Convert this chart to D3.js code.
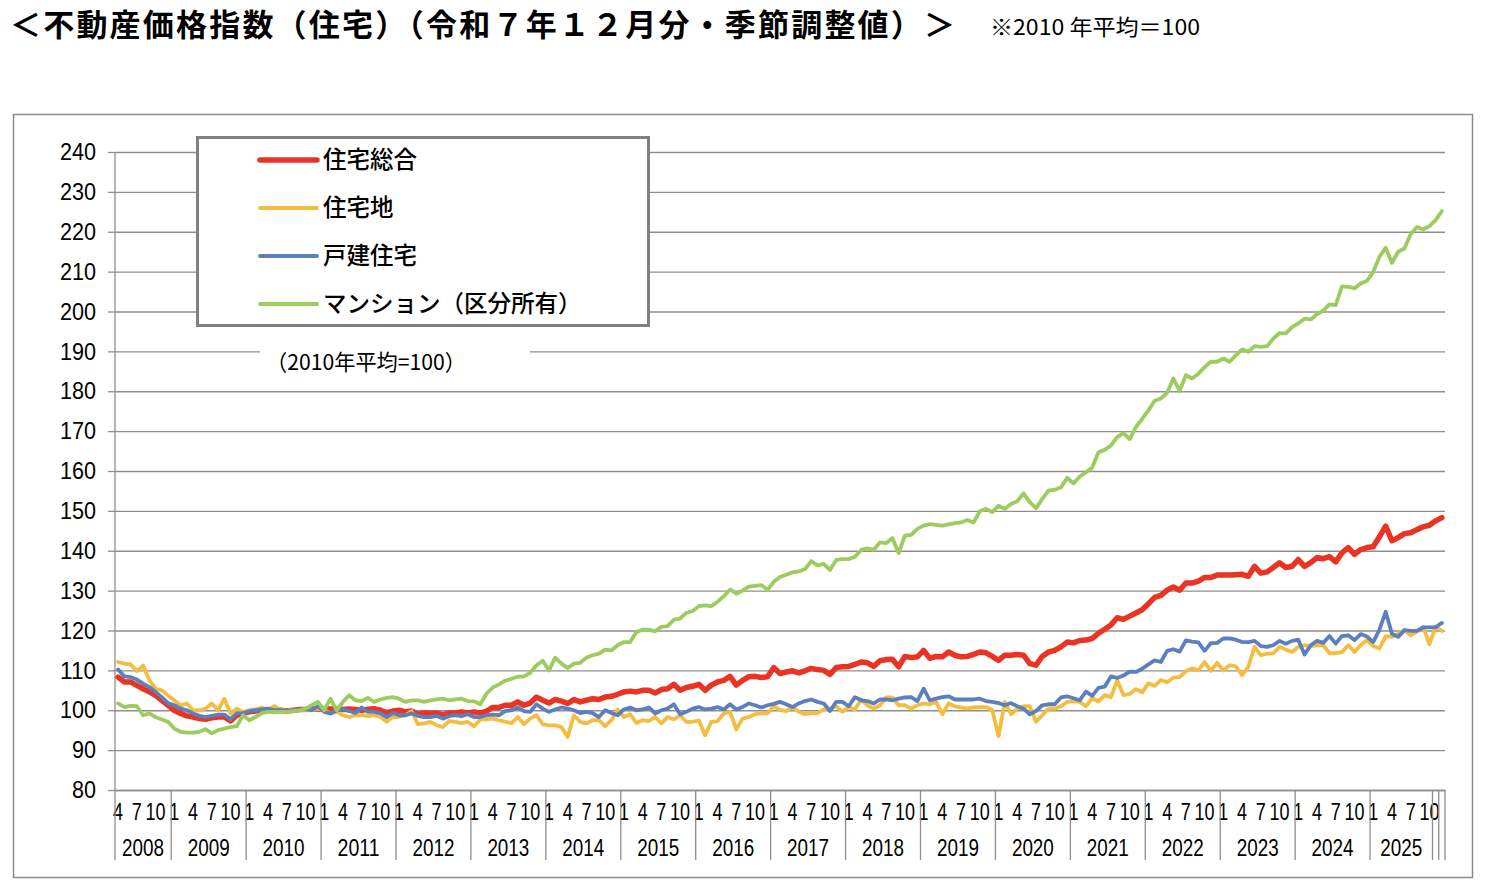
<!DOCTYPE html>
<html>
<head>
<meta charset="utf-8">
<script src="https://cdn.jsdelivr.net/npm/d3@7"></script>
<style>
  body { margin: 0; background: #fff; }
  .jp { font-family: "Noto Sans CJK JP", "Noto Sans", sans-serif; }
  .num { font-family: "Liberation Sans Narrow", "Arial Narrow", "Liberation Sans", sans-serif; }
</style>
</head>
<body>
<svg id="chart" width="1486" height="884"></svg>
<script>
// monthly series, April 2008 .. December 2025 (2010 average = 100)
const years = [2008, 2009, 2010, 2011, 2012, 2013, 2014, 2015, 2016, 2017,
               2018, 2019, 2020, 2021, 2022, 2023, 2024, 2025];
const firstMonth = 4;          // series starts in April of the first year
const monthTicks = [1, 4, 7, 10];
const tailGroups = 2;          // last two months sit in their own unlabelled groups

// 住宅総合
const soGo = [
  108.3, 107.1, 107.1, 106.25, 105.4, 104.6, 103.75, 102.5, 101.25, 100,
  99.2, 98.6, 98.3, 97.9, 97.75, 98.1, 98.3, 98.3, 97.3, 98.75,
  99.2, 99.6, 99.8, 100, 100, 99.8, 100, 99.8, 100, 100.2,
  100.25, 100.4, 100.3, 100.4, 100.3, 100.4, 100.2, 100.3, 100.2, 100,
  100.25, 100.4, 100, 99.4, 99.8, 100, 99.6, 99.8, 99, 99.3,
  99.2, 99.3, 98.9, 99.3, 99.3, 99.6, 99.3, 99.6, 99.3, 99.8,
  100.7, 100.7, 101.25, 101.25, 102.1, 101.25, 101.8, 103.3, 102.5, 101.8,
  102.7, 102.3, 101.7, 102.7, 102.1, 102.5, 102.9, 102.7, 103.3, 103.5,
  104, 104.6, 104.8, 104.6, 105, 105, 104.3, 105.2, 105.4, 106.5,
  105, 105.7, 106, 106.5, 105, 106.3, 107.1, 107.5, 108.5, 106.3,
  107.5, 108.4, 108.5, 108.2, 108.4, 110.7, 109.2, 109.6, 109.9, 109.4,
  109.9, 110.5, 110.2, 110, 109, 110.7, 110.9, 111, 111.5, 112.1,
  111.9, 111, 112.4, 112.7, 112.8, 110.9, 113.5, 113.2, 113.4, 115,
  113, 113.5, 113.4, 114.6, 113.8, 113.4, 113.5, 114, 114.6, 114.4,
  113.5, 112.5, 113.8, 113.8, 114, 113.8, 111.7, 111.3, 113.5, 114.6,
  115, 115.9, 117.1, 116.9, 117.5, 117.6, 118, 119.3, 120.3, 121.4,
  123.2, 122.8, 123.6, 124.4, 125.2, 126.7, 128.3, 128.8, 130.1, 130.9,
  130.1, 131.9, 131.9, 132.4, 133.3, 133.3, 133.9, 133.9, 133.9, 134,
  134.1, 133.6, 136.1, 134.4, 134.7, 135.8, 137, 135.8, 136.1, 137.8,
  136.1, 137, 138.3, 138, 138.5, 137.2, 139.5, 140.8, 139.1, 140.3,
  140.8, 141, 143.5, 146.2, 142.5, 143.3, 144.3, 144.5, 145.3, 146,
  146.4, 147.5, 148.3
];

// 住宅地
const jutakuchi = [
  112.1, 111.7, 111.5, 109.8, 111.2, 107.5, 105.4, 105, 103.7, 102.5,
  101.2, 101.7, 100, 100, 100.4, 101.7, 100, 102.9, 99.2, 100.4,
  99.6, 100, 100.2, 100.7, 100.2, 101, 100.2, 99.8, 100.2, 100,
  100, 100, 100.4, 100, 99.2, 99.6, 98.75, 98.3, 98.75, 98.75,
  98.5, 98.75, 98.3, 97.1, 98.3, 98.3, 98.75, 99.8, 96.5, 96.7,
  97.1, 96.25, 95.8, 97.3, 97.1, 96.8, 97.1, 96, 97.7, 97.7,
  97.9, 97.5, 97.1, 96.8, 98.3, 96.5, 97.9, 98.75, 96.5, 96.2,
  96.2, 95.8, 93.3, 98.75, 97.1, 96.7, 97.5, 97.5, 96, 97.5,
  100.2, 98.3, 99, 96.8, 97.5, 97.3, 98.3, 96.7, 98.3, 97.7,
  98.75, 97.1, 97.1, 97.5, 93.7, 97.1, 97.3, 99.2, 99.6, 95.2,
  97.9, 98.3, 99, 99.2, 99.2, 101, 100.1, 99.8, 100.8, 99.6,
  99, 99.3, 99.3, 100.2, 100.4, 101, 99.6, 100.8, 100.2, 102.7,
  101.25, 100.4, 101.25, 103.2, 103.2, 101.25, 101.25, 100.4, 101.25, 101.7,
  101.5, 102.1, 99, 101.7, 101, 100.7, 100.4, 100.7, 100.8, 100.8,
  100, 93.5, 102.1, 99, 100.4, 101, 101, 97.1, 98.75, 100.4,
  100.4, 101, 102.1, 102.3, 102.1, 101, 103, 102.2, 103.8, 103.3,
  107.5, 103.8, 104.1, 105.3, 104.5, 106.8, 106.1, 107.6, 107, 108.2,
  108.3, 109.8, 110.5, 110, 112.1, 109.9, 111.9, 110, 111.3, 111,
  108.8, 110.9, 115.9, 113.8, 114.2, 114.3, 115.9, 115.2, 114.6, 115.9,
  116.3, 116.1, 116.3, 116.3, 114.3, 114.3, 114.6, 116.3, 114.6, 116.3,
  117.6, 116.1, 115.5, 118.6, 118.4, 119.2, 120.1, 118.8, 119.7, 120.9,
  116.6, 120.9, 119.9
];

// 戸建住宅
const kodate = [
  110.2, 108.5, 108.3, 107.7, 106.7, 105.8, 104.6, 103.3, 101.8, 101.25,
  100.4, 100, 99.2, 98.6, 98.3, 98.6, 98.9, 98.9, 97.75, 99.2,
  99.3, 99.75, 100, 100.2, 100.4, 100, 100, 99.75, 100, 100.2,
  100.3, 100, 101, 99.6, 99.2, 100, 100.2, 99.8, 99.3, 100.7,
  99.6, 99.6, 99.3, 98.3, 99.3, 98.75, 98.75, 99.2, 98.6, 98.3,
  98.3, 98.6, 97.9, 98.5, 98.75, 98.5, 99, 98.3, 98.3, 98.75,
  98.9, 98.75, 99.8, 100, 100.7, 99.8, 99.6, 101.5, 100.4, 99.6,
  100.2, 100.7, 100.4, 100, 99.3, 99.6, 99.3, 98.3, 100, 99.3,
  98.75, 100.2, 100.7, 100, 100.2, 100.7, 99.2, 100, 100.4, 101.5,
  99, 99.6, 100.4, 100.8, 100.2, 100.4, 100.8, 100.2, 101.5, 100.2,
  100.8, 101.7, 101.25, 100.7, 101.25, 101.6, 102.1, 101.5, 100.8, 101.7,
  102.3, 102.7, 102.1, 101.7, 99.8, 102.1, 102.1, 101, 103.3, 102.5,
  102.3, 101.7, 102.7, 102.7, 102.5, 102.9, 103.2, 103.3, 102.3, 105.4,
  102.5, 102.9, 103.3, 103.5, 102.7, 102.7, 102.7, 102.7, 102.9, 102.3,
  102.1, 101.8, 101.25, 101.8, 101, 100.4, 99, 99.8, 101.25, 101.5,
  101.5, 103.2, 103.5, 103, 102.5, 104.7, 103.6, 105.6, 105.9, 108.5,
  108.1, 108.7, 109.7, 109.6, 110.4, 111.5, 112.5, 112.1, 114.9, 115.3,
  114.7, 117.5, 117.2, 117, 114.9, 116.8, 116.9, 118, 118, 117.7,
  117.1, 117.1, 117.4, 116.1, 115.9, 116.3, 117.4, 116.7, 117.4, 117.7,
  114, 116.3, 117.4, 116.9, 118.6, 116.7, 118.6, 118.8, 117.6, 119.1,
  118.5, 117.1, 120.2, 124.7, 119.2, 118.4, 120.1, 119.9, 119.9, 120.8,
  120.8, 120.8, 121.9
];

// マンション（区分所有）
const mansion = [
  101.7, 100.8, 101.1, 101, 98.75, 99.2, 98.3, 97.7, 97.1, 95.4,
  94.6, 94.4, 94.4, 94.6, 95.25, 94.2, 95, 95.4, 95.8, 96,
  98.75, 97.5, 98.3, 99.3, 99.6, 99.6, 99.6, 99.6, 99.75, 100,
  100.4, 101.25, 102.1, 100, 102.9, 100, 102.1, 103.75, 102.5, 102.3,
  103.1, 102.1, 102.7, 103.1, 103.3, 102.9, 102.1, 102.5, 102.5, 102.1,
  102.5, 102.75, 102.9, 102.5, 102.7, 102.9, 102.3, 102.25, 101.5, 104.2,
  105.7, 106.5, 107.4, 107.9, 108.4, 108.5, 109.4, 111.3, 112.4, 110,
  113.2, 111.7, 110.6, 111.7, 111.9, 113.2, 113.8, 114.2, 115.2, 115,
  116.3, 117.1, 117.1, 119.6, 120.2, 120.2, 119.8, 120.9, 121.1, 122.7,
  123, 124.4, 124.9, 126.1, 126.3, 126.1, 127.2, 128.6, 130.3, 129.2,
  130, 131, 131.2, 131.4, 130.2, 132.2, 133.4, 134, 134.6, 134.8,
  135.4, 137.4, 136.3, 136.7, 135.2, 137.7, 137.9, 137.9, 138.5, 140.2,
  140.6, 140.2, 142.1, 141.9, 143.2, 139.4, 143.8, 144, 145.5, 146.3,
  146.7, 146.5, 146.3, 146.6, 146.9, 147.1, 147.7, 147.1, 149.9, 150.5,
  149.7, 151.3, 150.5, 151.7, 152.4, 154.4, 152.2, 150.7, 153, 155.1,
  155.3, 155.9, 158.3, 156.9, 158.6, 159.7, 160.9, 164.7, 165.3, 166.4,
  168.5, 169.5, 168, 171, 173.1, 175.2, 177.6, 178.2, 179.6, 183.2,
  180.1, 184, 183.2, 184.4, 186.1, 187.4, 187.4, 188.2, 187.4, 189,
  190.5, 189.9, 191.3, 191.1, 191.3, 193.2, 194.6, 194.5, 196.1, 197,
  198.2, 198, 199.3, 200.2, 201.8, 201.6, 206.3, 206.2, 205.8, 207,
  207.7, 209.9, 213.7, 216, 212.2, 215, 215.8, 219.4, 221.2, 220.6,
  221.4, 222.9, 225.2
];

const seriesNames = ["住宅総合", "住宅地", "戸建住宅", "マンション（区分所有）"];
const seriesColors = ["#ea3323", "#f5bd3f", "#5b7fbf", "#9ccb5e"];
const yTicks = [80, 90, 100, 110, 120, 130, 140, 150, 160, 170, 180, 190, 200, 210, 220, 230, 240];

// build the month categories from the years
let cats = [];
years.forEach((yr, k) => {
  for (let m = (k === 0 ? firstMonth : 1); m <= 12; m++) cats.push({year: yr, month: m});
});
// group key for the two-level axis: one group per year, tail months on their own
cats.forEach((c, i) => {
  c.group = i >= cats.length - tailGroups ? "tail" + i : String(c.year);
  c.groupLabel = i >= cats.length - tailGroups ? "" : String(c.year);
});

const svg = d3.select("#chart");
const plotL = 115, plotR = 1445, plotT = 152, plotB = 790;

const x = d3.scaleBand().domain(d3.range(cats.length)).range([plotL, plotR]).padding(0);
const y = d3.scaleLinear().domain([80, 240]).range([plotB, plotT]);
const xc = i => x(i) + x.bandwidth() / 2;
const xEdge = i => i >= cats.length ? plotR : x(i);

// narrow digits, like the original's condensed face
function squeeze(sel, perChar) {
  sel.each(function () {
    const t = d3.select(this);
    const n = t.text().length;
    if (n) t.attr("textLength", n * perChar).attr("lengthAdjust", "spacingAndGlyphs");
  });
}

// outer frame
svg.append("rect")
  .attr("x", 13.5).attr("y", 114.5).attr("width", 1459).attr("height", 763)
  .attr("fill", "none").attr("stroke", "#8c8c8c").attr("stroke-width", 1.5);

// title
svg.append("text").attr("class", "jp")
  .attr("x", 10).attr("y", 36)
  .attr("font-size", 31).attr("font-weight", "bold")
  .attr("textLength", 945).attr("lengthAdjust", "spacing")
  .text("＜不動産価格指数（住宅）（令和７年１２月分・季節調整値）＞");
svg.append("text").attr("class", "jp")
  .attr("x", 990).attr("y", 35)
  .attr("font-size", 22)
  .attr("textLength", 210).attr("lengthAdjust", "spacingAndGlyphs")
  .text("※2010 年平均＝100");

// gridlines
svg.append("g")
  .attr("transform", `translate(${plotL},0)`)
  .call(d3.axisLeft(y).tickValues(yTicks).tickSize(-(plotR - plotL)).tickFormat(""))
  .call(g => g.select(".domain").remove())
  .selectAll("line").attr("stroke", "#8e8e8e").attr("stroke-width", 1.3);

// y axis
const yAxis = svg.append("g")
  .attr("transform", `translate(${plotL},0)`)
  .call(d3.axisLeft(y).tickValues(yTicks).tickSize(7).tickPadding(12));
yAxis.select(".domain").attr("stroke", "#8e8e8e").attr("stroke-width", 1.3).attr("d", `M0,${plotT}V${plotB}`);
yAxis.selectAll("line").attr("stroke", "#8e8e8e").attr("stroke-width", 1.3);
yAxis.selectAll("text").attr("class", "num").attr("font-size", 24).attr("fill", "#000").call(squeeze, 12);

// x axis: months
const xAxis = svg.append("g")
  .attr("transform", `translate(0,${plotB})`)
  .call(d3.axisBottom(x)
    .tickValues(d3.range(cats.length).filter(i => monthTicks.includes(cats[i].month)))
    .tickFormat(i => cats[i].month)
    .tickSize(0).tickPadding(14));
xAxis.select(".domain").attr("stroke", "#8e8e8e").attr("stroke-width", 1.3);
xAxis.selectAll("text").attr("class", "num").attr("font-size", 23).attr("fill", "#000").call(squeeze, 10);

// x axis: year groups
const groups = d3.groups(d3.range(cats.length), i => cats[i].group);
const bounds = [0].concat(groups.map(g => d3.max(g[1]) + 1));
svg.append("g").selectAll("line").data(bounds).join("line")
  .attr("x1", xEdge).attr("x2", xEdge)
  .attr("y1", plotB).attr("y2", 860)
  .attr("stroke", "#8e8e8e").attr("stroke-width", 1.3);
svg.append("g").selectAll("text").data(groups).join("text")
  .attr("class", "num")
  .attr("x", g => (x(d3.min(g[1])) + xEdge(d3.max(g[1]) + 1)) / 2)
  .attr("y", 848).attr("dy", "0.35em")
  .attr("text-anchor", "middle").attr("font-size", 23)
  .text(g => cats[g[1][0]].groupLabel)
  .call(squeeze, 10.5);

// legend box and note (white backing hides the gridlines)
svg.append("rect")
  .attr("x", 197.5).attr("y", 137.5).attr("width", 451).attr("height", 188)
  .attr("fill", "#fff").attr("stroke", "#808080").attr("stroke-width", 3);
svg.append("rect")
  .attr("x", 260).attr("y", 338).attr("width", 270).attr("height", 46).attr("fill", "#fff");
svg.append("text").attr("class", "jp")
  .attr("x", 266).attr("y", 362).attr("dy", "0.35em")
  .attr("font-size", 22)
  .attr("textLength", 200).attr("lengthAdjust", "spacingAndGlyphs")
  .text("（2010年平均=100）");

const legend = svg.append("g").selectAll("g").data(seriesNames).join("g")
  .attr("transform", (d, i) => `translate(0,${160 + i * 48})`);
legend.append("line")
  .attr("x1", 260).attr("x2", 317)
  .attr("stroke", (d, i) => seriesColors[i])
  .attr("stroke-width", (d, i) => i === 0 ? 5.5 : 3.8)
  .attr("stroke-linecap", "round");
legend.append("text").attr("class", "jp")
  .attr("x", 323).attr("dy", "0.35em")
  .attr("font-size", 23.5).attr("font-weight", 500)
  .text(d => d);

// series lines
const allSeries = [soGo, jutakuchi, kodate, mansion];
const line = d3.line().x((d, i) => xc(i)).y(d => y(d));
svg.append("g").selectAll("path").data(allSeries).join("path")
  .attr("d", line)
  .attr("fill", "none")
  .attr("stroke", (d, i) => seriesColors[i])
  .attr("stroke-width", (d, i) => i === 0 ? 5.5 : 3.8)
  .attr("stroke-linejoin", "round")
  .attr("stroke-linecap", "round");
</script>
</body>
</html>
